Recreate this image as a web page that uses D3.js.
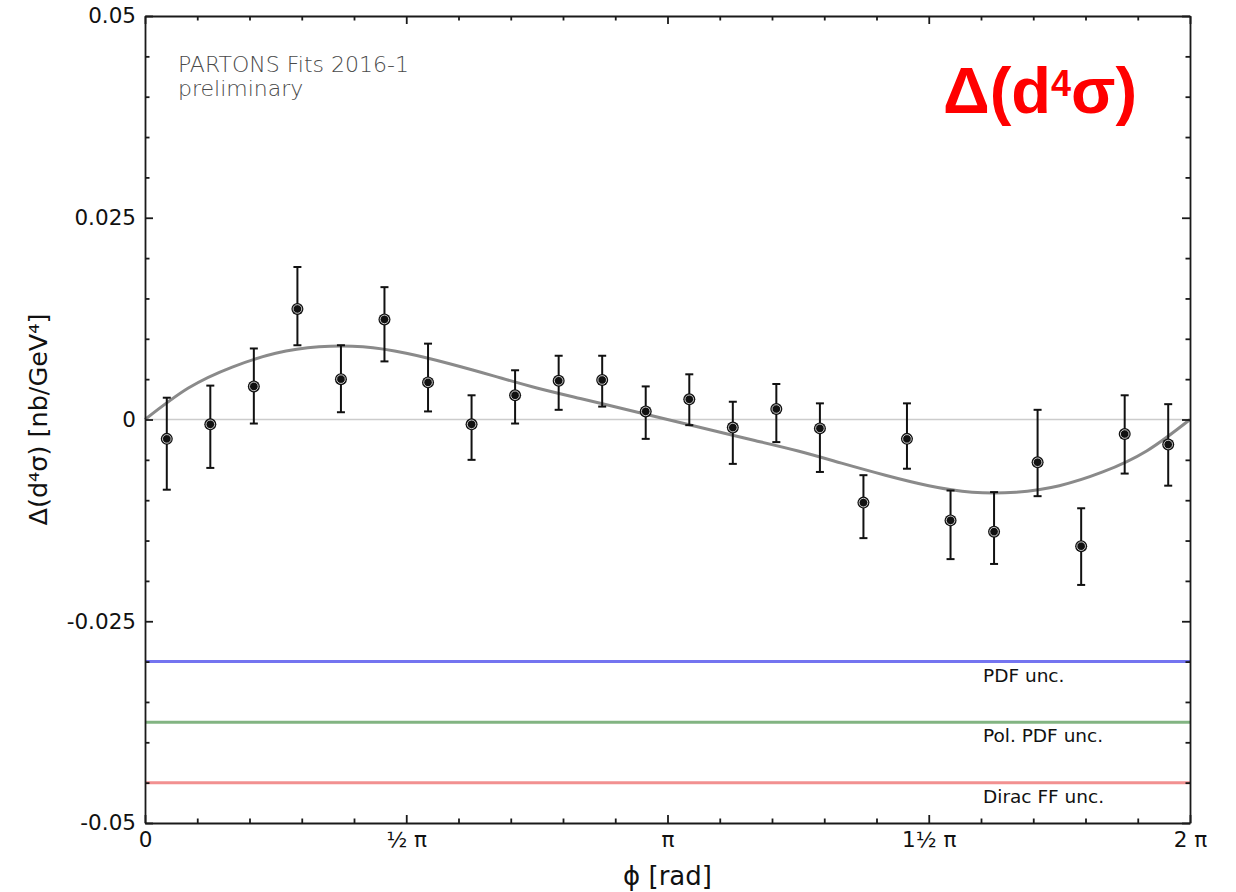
<!DOCTYPE html>
<html>
<head>
<meta charset="utf-8">
<script src="https://cdnjs.cloudflare.com/ajax/libs/d3/7.8.5/d3.min.js"></script>
<style>
  body { margin: 0; background: #fff; }
  svg { display: block; font-family: "DejaVu Sans", sans-serif; }
  .axis path, .axis line { stroke: #1a1a1a; stroke-width: 1.8; }
  .axis text { font-size: 21.5px; fill: #111; font-family: "DejaVu Sans", sans-serif; }
</style>
</head>
<body>
<div id="chart"></div>
<script>
// 1: DATA (phi in units of pi)
const binPhi = [0.0417, 0.125, 0.2083, 0.2917, 0.375, 0.4583, 0.5417, 0.625, 0.7083, 0.7917, 0.875, 0.9583,
                1.0417, 1.125, 1.2083, 1.2917, 1.375, 1.4583, 1.5417, 1.625, 1.7083, 1.7917, 1.875, 1.9583];
const asymValues = [-0.0024, -0.0006, 0.0041, 0.0137, 0.0050, 0.0124, 0.0046, -0.0006, 0.0030, 0.0048, 0.0049, 0.0010,
                    0.0025, -0.0010, 0.0013, -0.0011, -0.0103, -0.0024, -0.0125, -0.0139, -0.0053, -0.0157, -0.0018, -0.0031];
const errLow = [-0.0087, -0.0060, -0.0005, 0.0092, 0.0009, 0.0072, 0.0010, -0.0050, -0.0005, 0.0012, 0.0016, -0.0024,
                -0.0007, -0.0055, -0.0028, -0.0065, -0.0147, -0.0061, -0.0173, -0.0179, -0.0095, -0.0205, -0.0067, -0.0082];
const errHigh = [0.0027, 0.0042, 0.0088, 0.0189, 0.0092, 0.0164, 0.0094, 0.0030, 0.0061, 0.0079, 0.0079, 0.0041,
                 0.0056, 0.0022, 0.0044, 0.0020, -0.0069, 0.0020, -0.0088, -0.0090, 0.0012, -0.0110, 0.0030, 0.0019];

// fit curve
const curvePhi = [0, 0.083, 0.167, 0.25, 0.333, 0.417, 0.5, 0.583, 0.667, 0.75, 0.833, 0.917, 1.0,
                  1.083, 1.167, 1.25, 1.333, 1.417, 1.5, 1.583, 1.667, 1.75, 1.833, 1.917, 2];
const curveValues = [0, 0.0039, 0.0065, 0.0082, 0.0090, 0.0090, 0.0082, 0.0069, 0.0054, 0.0039, 0.0026, 0.0013, 0,
                     -0.0013, -0.0026, -0.0039, -0.0054, -0.0069, -0.0082, -0.0090, -0.0090, -0.0082, -0.0065, -0.0039, 0];

// uncertainty lines
const uncLabels = ["PDF unc.", "Pol. PDF unc.", "Dirac FF unc."];
const uncLevels = [-0.030, -0.0375, -0.045];
const uncColors = ["#7474f0", "#82b482", "#f29090"];

const yTicks = [-0.05, -0.025, 0, 0.025, 0.05];
const yTickLabels = ["-0.05", "-0.025", "0", "0.025", "0.05"];
const xTicks = [0, 0.5, 1, 1.5, 2];
const xTickLabels = ["0", "½ π", "π", "1½ π", "2 π"];

// 2: SVG
const W = 1236, H = 892;
const margin = { top: 16, right: 46, bottom: 69, left: 145 };
const width = W - margin.left - margin.right;
const height = H - margin.top - margin.bottom;

const svgRoot = d3.select("#chart").append("svg")
    .attr("width", W)
    .attr("height", H);
const svg = svgRoot.append("g")
    .attr("transform", `translate(${margin.left},${margin.top})`);

// 3: SCALES
const x = d3.scaleLinear().domain([0, 2 * Math.PI]).range([0, width]);
const y = d3.scaleLinear().domain([-0.05, 0.05]).range([height, 0]);

const points = binPhi.map((p, i) => ({
    phi: p * Math.PI, v: asymValues[i], lo: errLow[i], hi: errHigh[i]
}));
const curve = curvePhi.map((p, i) => ({ phi: p * Math.PI, v: curveValues[i] }));

// 4: PLOT
// zero line
svg.append("line")
    .attr("x1", x(0)).attr("x2", x(2 * Math.PI))
    .attr("y1", y(0)).attr("y2", y(0))
    .attr("stroke", "#cccccc")
    .attr("stroke-width", 1.6);

// uncertainty lines + labels
uncLevels.forEach((lv, i) => {
    svg.append("line")
        .attr("x1", x(0)).attr("x2", x(2 * Math.PI))
        .attr("y1", y(lv)).attr("y2", y(lv))
        .attr("stroke", uncColors[i])
        .attr("stroke-width", 3);
    svg.append("text")
        .attr("x", x(1.6 * Math.PI) + 2)
        .attr("y", y(lv) + 20)
        .attr("font-size", "18.5px")
        .attr("fill", "#111")
        .text(uncLabels[i]);
});

// fit curve
const line = d3.line()
    .x(d => x(d.phi))
    .y(d => y(d.v))
    .curve(d3.curveNatural);

svg.append("path")
    .datum(curve)
    .attr("fill", "none")
    .attr("stroke", "#8a8a8a")
    .attr("stroke-width", 3)
    .attr("d", line);

// error bars
const capW = 4;
const bars = svg.selectAll(".err").data(points).enter().append("g").attr("class", "err")
    .attr("stroke", "#111").attr("stroke-width", 2);
bars.append("line")
    .attr("x1", d => x(d.phi)).attr("x2", d => x(d.phi))
    .attr("y1", d => y(d.lo)).attr("y2", d => y(d.hi));
bars.append("line")
    .attr("x1", d => x(d.phi) - capW).attr("x2", d => x(d.phi) + capW)
    .attr("y1", d => y(d.hi)).attr("y2", d => y(d.hi));
bars.append("line")
    .attr("x1", d => x(d.phi) - capW).attr("x2", d => x(d.phi) + capW)
    .attr("y1", d => y(d.lo)).attr("y2", d => y(d.lo));

// markers
svg.selectAll(".dot").data(points).enter().append("circle")
    .attr("class", "dot")
    .attr("cx", d => x(d.phi)).attr("cy", d => y(d.v))
    .attr("r", 6).attr("fill", "#111");
svg.selectAll(".dot-ring").data(points).enter().append("circle")
    .attr("class", "dot-ring")
    .attr("cx", d => x(d.phi)).attr("cy", d => y(d.v))
    .attr("r", 4.3).attr("fill", "none")
    .attr("stroke", "#dddddd").attr("stroke-width", 0.9);

// 5: AXES (ticks pointing inward)
const majorX = xTicks.map(t => t * Math.PI);
const minorX = d3.range(0, 21).map(i => i * Math.PI / 10).filter(v => !majorX.some(m => Math.abs(m - v) < 1e-9));
const minorY = d3.range(-10, 11).map(i => i * 0.005).filter(v => !yTicks.some(m => Math.abs(m - v) < 1e-9));

function addAxis(axisFn, scale, major, minor, labels, transform) {
    const gMinor = svg.append("g").attr("class", "axis").attr("transform", transform)
        .call(axisFn(scale).tickValues(minor).tickSize(-4.5).tickSizeOuter(0).tickFormat(""));
    gMinor.select(".domain").remove();
    const g = svg.append("g").attr("class", "axis").attr("transform", transform)
        .call(axisFn(scale).tickValues(major).tickSize(-8).tickSizeOuter(0).tickPadding(9)
            .tickFormat((d, i) => labels ? labels[i] : ""));
    return g;
}

addAxis(d3.axisBottom, x, majorX, minorX, xTickLabels, `translate(0,${height})`);
addAxis(d3.axisTop, x, majorX, minorX, null, "translate(0,0)");
addAxis(d3.axisLeft, y, yTicks, minorY, yTickLabels, "translate(0,0)");
addAxis(d3.axisRight, y, yTicks, minorY, null, `translate(${width},0)`);

// 6: LABELS
svg.append("text")
    .attr("x", width / 2)
    .attr("y", height + 62)
    .attr("text-anchor", "middle")
    .attr("font-size", "26px")
    .attr("fill", "#111")
    .text("ϕ [rad]");

svg.append("text")
    .attr("transform", "rotate(-90)")
    .attr("x", -(y(0)))
    .attr("y", 47 - margin.left)
    .attr("text-anchor", "middle")
    .attr("font-size", "25.5px")
    .attr("fill", "#111")
    .text("Δ(d⁴σ) [nb/GeV⁴]");

// PARTONS note
const note = svg.append("text")
    .attr("x", 178 - margin.left)
    .attr("font-size", "22px")
    .attr("font-weight", 200)
    .attr("fill", "#4a4a4a");
note.append("tspan").attr("x", 178 - margin.left).attr("y", 72 - margin.top).text("PARTONS Fits 2016-1");
note.append("tspan").attr("x", 178 - margin.left).attr("y", 96 - margin.top).text("preliminary");

// red title
const title = svgRoot.append("text")
    .attr("x", 943)
    .attr("y", 113)
    .attr("font-family", "'Liberation Sans', Arial, sans-serif")
    .attr("font-weight", "bold")
    .attr("font-size", "65px")
    .attr("fill", "#ff0000");
title.append("tspan").text("Δ(d");
title.append("tspan").attr("font-size", "36px").attr("dy", -17).text("4");
title.append("tspan").attr("dy", 17).text("σ)");
</script>
</body>
</html>
